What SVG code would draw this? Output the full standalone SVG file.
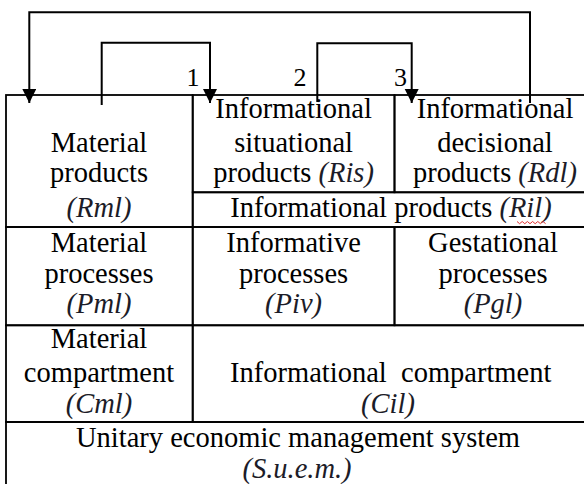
<svg xmlns="http://www.w3.org/2000/svg" width="584" height="484" viewBox="0 0 584 484">
<style>
.cell{fill:none;stroke:#000;stroke-width:1.8}
.t{font-family:'Liberation Serif','Times New Roman',serif;font-size:28.5px;fill:#000;text-anchor:middle}
.i{font-style:italic;fill:#1c1c28}
.n{font-family:'Liberation Serif','Times New Roman',serif;font-size:26px;fill:#000;text-anchor:middle}
.c{fill:none;stroke:#000;stroke-width:2}
</style>
<defs>
<marker id="ah" markerUnits="userSpaceOnUse" markerWidth="14" markerHeight="16" viewBox="0 0 14 16" refX="14" refY="7" orient="auto">
<path d="M0,0 L14,7 L0,14 Z" fill="#000"/>
</marker>
</defs>
<rect width="584" height="484" fill="#fff"/>
<g id="Rml">
<rect class="cell" x="6" y="95" width="186.7" height="132"/>
<text class="t" x="99" y="151.7">Material</text>
<text class="t" x="99" y="181.7">products</text>
<text class="t i" x="99" y="217">(Rml)</text>
</g>
<g id="Ris">
<rect class="cell" x="192.7" y="95" width="201.8" height="97.3"/>
<text class="t" x="293.6" y="118.3">Informational</text>
<text class="t" x="293.6" y="151.7">situational</text>
<text class="t" x="293.6" y="181.7">products <tspan class="i">(Ris)</tspan></text>
</g>
<g id="Rdl">
<rect class="cell" x="394.5" y="95" width="200" height="97.3"/>
<text class="t" x="495" y="118.3">Informational</text>
<text class="t" x="495" y="151.7">decisional</text>
<text class="t" x="495" y="181.7">products <tspan class="i">(Rdl)</tspan></text>
</g>
<g id="Ril">
<rect class="cell" x="192.7" y="192.3" width="402" height="34.7"/>
<text class="t" x="391" y="217">Informational products <tspan class="i">(Ril)</tspan></text>
<path d="M517,221.5 l2.6,2.2 l2.6,-2.2 l2.6,2.2 l2.6,-2.2 l2.6,2.2 l2.6,-2.2 l2.6,2.2 l2.6,-2.2 l2.6,2.2 l2.6,-2.2 l2.6,2.2" fill="none" stroke="#e03030" stroke-width="1"/>
</g>
<g id="Pml">
<rect class="cell" x="6" y="227" width="186.7" height="98.3"/>
<text class="t" x="99" y="251.7">Material</text>
<text class="t" x="99" y="283.3">processes</text>
<text class="t i" x="99" y="313.3">(Pml)</text>
</g>
<g id="Piv">
<rect class="cell" x="192.7" y="227" width="201.8" height="98.3"/>
<text class="t" x="293.6" y="251.7">Informative</text>
<text class="t" x="293.6" y="283.3">processes</text>
<text class="t i" x="293.6" y="313.3">(Piv)</text>
</g>
<g id="Pgl">
<rect class="cell" x="394.5" y="227" width="200" height="98.3"/>
<text class="t" x="493" y="251.7">Gestational</text>
<text class="t" x="493" y="283.3">processes</text>
<text class="t i" x="493" y="313.3">(Pgl)</text>
</g>
<g id="Cml">
<rect class="cell" x="6" y="325.3" width="186.7" height="96.7"/>
<text class="t" x="99" y="348.3">Material</text>
<text class="t" x="99" y="381.7">compartment</text>
<text class="t i" x="99" y="413.3">(Cml)</text>
</g>
<g id="Cil">
<rect class="cell" x="192.7" y="325.3" width="402" height="96.7"/>
<text class="t" x="390.7" y="381.7" xml:space="preserve">Informational  compartment</text>
<text class="t i" x="388" y="413.3">(Cil)</text>
</g>
<g id="Suem">
<rect class="cell" x="6" y="422" width="588" height="70"/>
<text class="t" x="298" y="446.7">Unitary economic management system</text>
<text class="t i" x="297" y="478">(S.u.e.m.)</text>
</g>
<g id="labels">
<text class="n" x="193" y="86">1</text>
<text class="n" x="300" y="86">2</text>
<text class="n" x="400.5" y="86">3</text>
</g>
<g id="connectors">
<path class="c" d="M101.7,105 V42.7 H210 V103" marker-end="url(#ah)"/>
<path class="c" d="M317.3,102 V43.3 H411.7 V103" marker-end="url(#ah)"/>
<path class="c" d="M530,103 V12.3 H29.3 V103" marker-end="url(#ah)"/>
</g>
</svg>
